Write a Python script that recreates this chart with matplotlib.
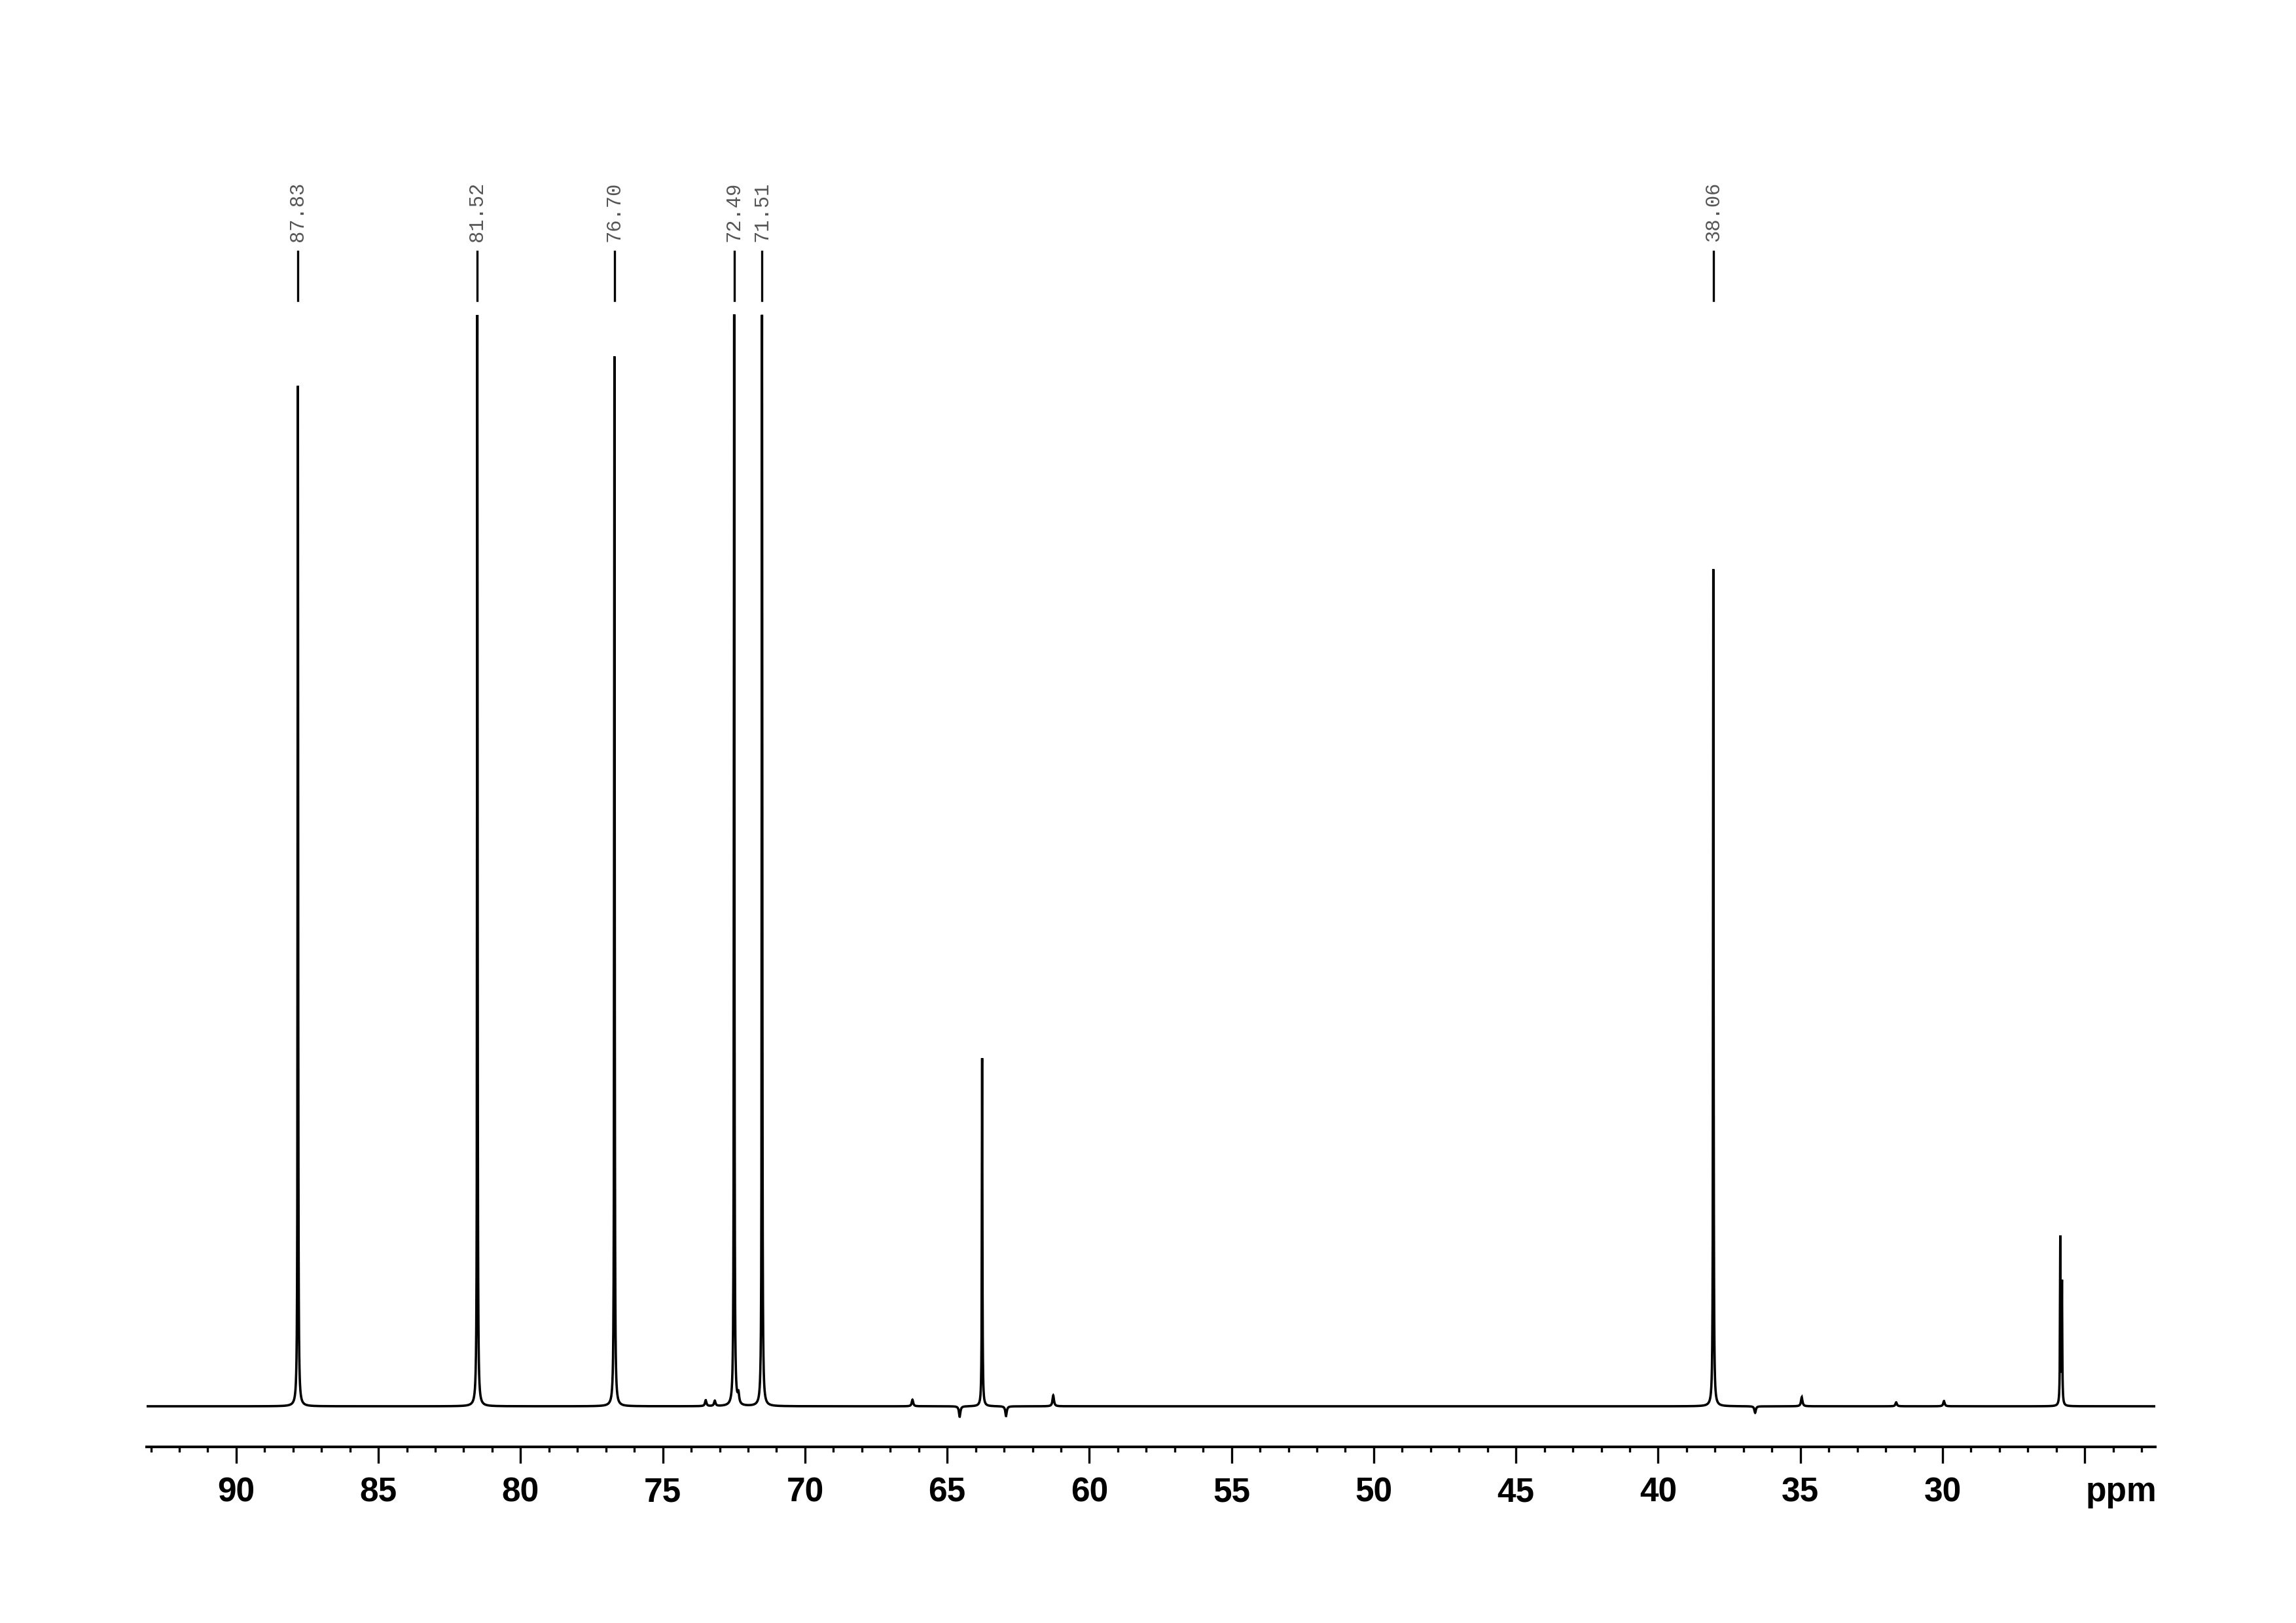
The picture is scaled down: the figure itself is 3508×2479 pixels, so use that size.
import numpy as np
import matplotlib
matplotlib.use("Agg")
import matplotlib.pyplot as plt
from matplotlib.ticker import MultipleLocator

# 13C spectrum, peaks (ppm, relative height)
peak_ppm    = [87.83, 81.52, 76.70, 72.49, 71.51, 63.77, 38.06, 25.86, 25.80]
peak_height = [93.5, 100.0, 96.2, 100.0, 100.0, 31.9, 76.7, 15.3, 11.1]

# small bumps / dips in the baseline
minor_ppm    = [73.49, 73.17, 72.34, 66.22, 64.56, 62.93, 61.27, 36.59, 34.95, 31.63, 29.95]
minor_height = [0.54, 0.48, 0.90, 0.60, -0.96, -0.90, 1.00, -0.60, 0.84, 0.36, 0.48]

# labelled shifts
label_ppm  = [87.83, 81.52, 76.70, 72.49, 71.51, 38.06]
label_text = ["87.83", "81.52", "76.70", "72.49", "71.51", "38.06"]

tick_values = [90, 85, 80, 75, 70, 65, 60, 55, 50, 45, 40, 35, 30, 25]
tick_labels = ["90", "85", "80", "75", "70", "65", "60", "55", "50", "45", "40", "35", "30", ""]

x_left, x_right = 93.15, 22.52

# lorentzian lines on a fine grid
x = np.arange(x_right, x_left, 0.002)
y = np.zeros_like(x)
g = 0.011
for p, h in zip(peak_ppm, peak_height):
    y += h * g**2 / (g**2 + (x - p)**2)
gm = 0.03
for p, h in zip(minor_ppm, minor_height):
    y += h * gm**2 / (gm**2 + (x - p)**2)

W, H = 3508, 2479
fig = plt.figure(figsize=(W / 100, H / 100), dpi=100)
ax = fig.add_axes([224 / W, 1 - 2210 / H, (3293 - 224) / W, (2210 - 200) / H])

ax.plot(x, y, color="black", lw=2.6, solid_joinstyle="miter")

ax.set_xlim(x_left, x_right)
ax.set_ylim(-3.72, 116.86)

# peak picking marks + labels
for p, t in zip(label_ppm, label_text):
    ax.plot([p, p], [101.3, 105.8], color="black", lw=2.4)
    ax.text(p, 106.7, t, rotation=90, ha="center", va="bottom",
            family="Liberation Mono", fontsize=22, color="#555555")

for s in ["top", "left", "right"]:
    ax.spines[s].set_visible(False)
ax.spines["bottom"].set_linewidth(2.9)
ax.set_yticks([])

ax.set_xticks(tick_values)
ax.set_xticklabels(tick_labels)
ax.xaxis.set_minor_locator(MultipleLocator(1))
ax.tick_params(axis="x", which="major", direction="out", length=18, width=2.4, pad=15,
               labelsize=37)
ax.tick_params(axis="x", which="minor", direction="out", length=6, width=2.4)
for lab in ax.get_xticklabels():
    lab.set_family("Liberation Sans")
    lab.set_fontweight("bold")

fig.text(3241 / W, 1 - 2293 / H, "ppm", ha="center", va="baseline",
         family="Liberation Sans", fontweight="bold", fontsize=37)

fig.savefig("out.png", dpi=100, facecolor="white")
